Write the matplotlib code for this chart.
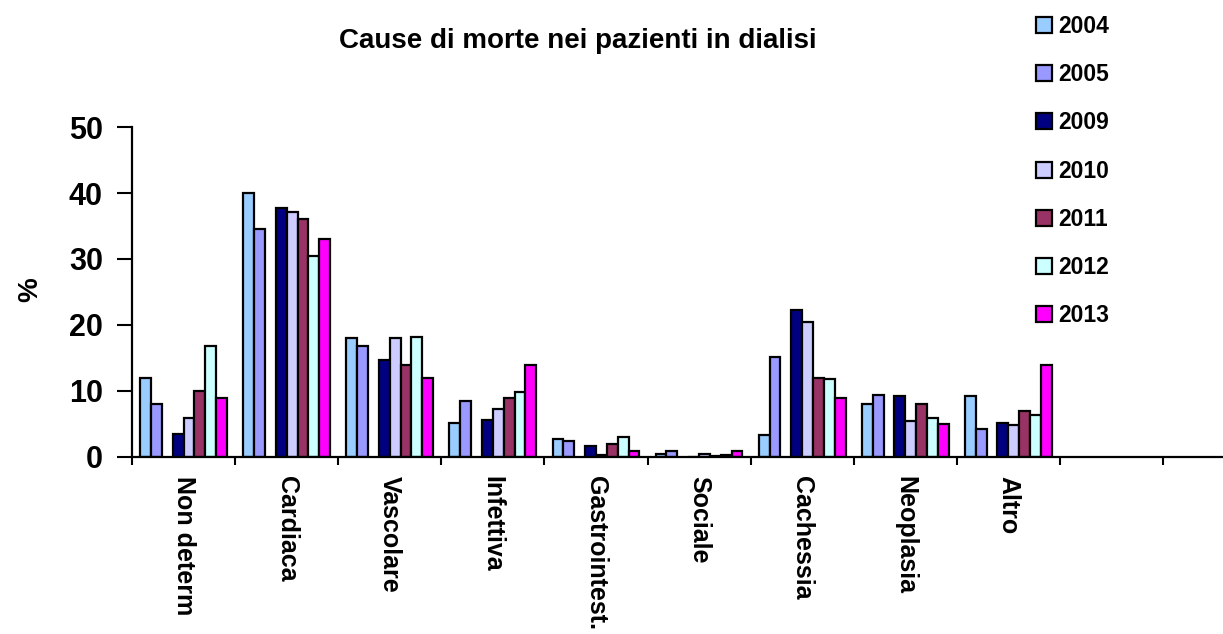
import numpy as np
import matplotlib
matplotlib.use("Agg")
import matplotlib.pyplot as plt

plt.rcParams['font.family'] = ['Liberation Sans', 'DejaVu Sans']
plt.rcParams['font.weight'] = 'bold'

# causes of death (two empty slots at the end of the axis, as in the source)
causes = ["Non determ", "Cardiaca", "Vascolare", "Infettiva", "Gastrointest.",
          "Sociale", "Cachessia", "Neoplasia", "Altro"]
N_SLOTS = 11

years = ["2004", "2005", "2009", "2010", "2011", "2012", "2013"]
y2004 = [12.0, 40.0, 18.0, 5.2, 2.8, 0.4, 3.4, 8.1, 9.3]
y2005 = [8.0, 34.6, 16.8, 8.5, 2.5, 0.9, 15.2, 9.4, 4.25]
y2009 = [3.5, 37.8, 14.7, 5.6, 1.6, 0.0, 22.3, 9.2, 5.2]
y2010 = [5.9, 37.1, 18.1, 7.2, 0.35, 0.4, 20.4, 5.4, 4.9]
y2011 = [10.0, 36.0, 13.9, 9.0, 2.0, 0.2, 11.9, 8.0, 7.0]
y2012 = [16.8, 30.4, 18.2, 9.9, 3.0, 0.3, 11.8, 5.9, 6.3]
y2013 = [9.0, 33.0, 11.9, 14.0, 0.9, 0.9, 9.0, 5.0, 14.0]
series = [y2004, y2005, y2009, y2010, y2011, y2012, y2013]

colors = ["#99CCFF", "#9999FF", "#000080", "#CCCCFF", "#993366", "#CCFFFF", "#FF00FF"]
# slot 2 is an empty series in the original workbook -> gap between 2005 and 2009
slot_idx = [0, 1, 3, 4, 5, 6, 7]

W, H = 1223, 634
fig = plt.figure(figsize=(W / 100, H / 100), dpi=100)
ax = fig.add_axes([132 / W, (H - 457) / H, N_SLOTS * 103.1 / W, 330 / H])

bw = 1 / 9.5
x0 = np.arange(len(causes))
for vals, col, s, yr in zip(series, colors, slot_idx, years):
    ax.bar(x0 + 0.75 * bw + s * bw, vals, width=bw, align='edge',
           color=col, edgecolor='black', linewidth=1.6, label=yr)

ax.set_xlim(0, N_SLOTS)
ax.set_ylim(0, 50)
ax.set_yticks(range(0, 51, 10))
ax.tick_params(axis='y', length=11, width=1.5, direction='out', labelsize=22, pad=10)
ax.set_xticks(range(N_SLOTS + 1))
ax.set_xticklabels([])
ax.tick_params(axis='x', which='major', length=6, width=1.5, direction='out')
ax.set_xticks(x0 + 0.5, minor=True)
ax.set_xticklabels(causes, minor=True, rotation=270, fontsize=18,
                   va='top', ha='center')
ax.tick_params(axis='x', which='minor', length=0, pad=14)

for sp in ['top', 'right']:
    ax.spines[sp].set_visible(False)
for sp in ['left', 'bottom']:
    ax.spines[sp].set_linewidth(1.6)

fig.text(30 / W, 1 - 290 / H, "%", rotation=90, fontsize=20, ha='center', va='center')
fig.text(578 / W, 1 - 41 / H, "Cause di morte nei pazienti in dialisi",
         fontsize=20, ha='center', va='center')

fig.legend(loc='upper left', bbox_to_anchor=(1036 / W, 1 - 15 / H), frameon=False,
           fontsize=16.5, handlelength=0.7, handleheight=0.7, handletextpad=0.25,
           labelspacing=1.1, borderpad=0, borderaxespad=0)

fig.savefig("out.png", dpi=100)
